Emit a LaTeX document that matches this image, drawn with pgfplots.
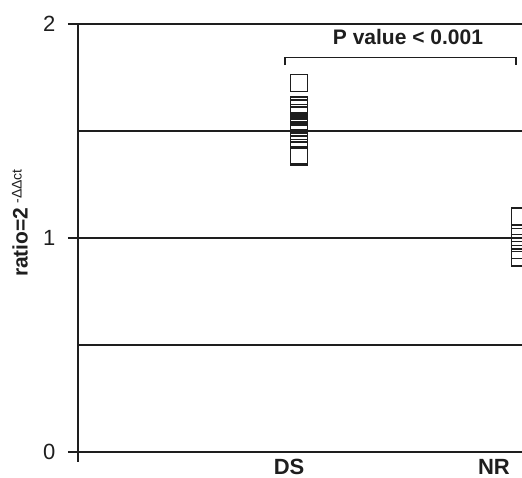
\documentclass[border=0pt]{standalone}
\usepackage{fontspec}
\setmainfont{Liberation Sans}
\usepackage{pgfplots}
\pgfplotsset{compat=1.18}
\definecolor{ink}{HTML}{1E1E1E}
\begin{document}
\begin{tikzpicture}
\begin{axis}[
  name=ax,
  at={(0,0)}, anchor=south west,
  scale only axis, width=444pt, height=428pt,
  xmin=0, xmax=2.009, ymin=0, ymax=2,
  axis x line=bottom, axis y line=left,
  axis line style={-, ink, line width=1.5pt},
  xtick={0.955,1.882}, xticklabels={DS,NR},
  xtick style={draw=none},
  xticklabel style={font=\fontsize{22}{26}\selectfont\bfseries, text=ink, yshift=6.5pt},
  ytick={0,1,2}, minor ytick={0.5,1.5},
  ymajorgrids, yminorgrids,
  major grid style={ink, line width=1.5pt},
  minor grid style={ink, line width=1.5pt},
  major tick length=10pt, minor tick length=0pt,
  tick align=outside,
  ytick style={ink, line width=1.5pt},
  yticklabel style={font=\fontsize{22}{26}\selectfont, text=ink, xshift=-9pt},
  /pgf/number format/assume math mode=true,
  ylabel={\fontsize{21}{24}\selectfont\bfseries ratio=2\hspace{4pt}\raisebox{6pt}{\fontsize{14}{14}\selectfont\mdseries -ΔΔct}},
  ylabel style={at={(axis description cs:-0.1306,0.535)}, anchor=center, text=ink},
]
\addplot[only marks, mark=square, mark size=8.5pt, ink, line width=1.8pt] coordinates {
  (1,1.724) (1,1.618) (1,1.606) (1,1.584) (1,1.573) (1,1.547) (1,1.531)
  (1,1.515) (1,1.500) (1,1.489) (1,1.466) (1,1.388) (1,1.379)
};
\addplot[only marks, mark=square, mark size=8.5pt, ink, line width=1.8pt] coordinates {
  (2,1.0995) (2,1.023) (2,1.005) (2,0.977) (2,0.944) (2,0.908)
};
\draw[ink, line width=1.5pt] (axis cs:0.937,1.808) |- (axis cs:1.982,1.8425) -- (axis cs:1.982,1.808);
\node[font=\fontsize{21}{24}\selectfont\bfseries, text=ink] at (axis cs:1.493,1.939) {P value < 0.001};
\end{axis}
\draw[ink, line width=1.5pt] (0,0) -- (0,-10pt);
\pgfresetboundingbox
\path[use as bounding box] (-78pt,-26pt) rectangle (444pt,452pt);
\end{tikzpicture}
\end{document}
